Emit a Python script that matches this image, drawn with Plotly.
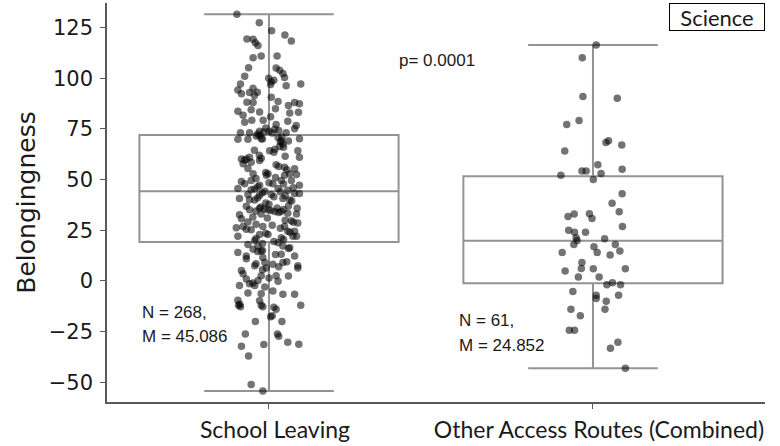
import plotly.graph_objects as go

# ---- categories and tick labels ----
categories = ["School Leaving", "Other Access Routes (Combined)"]
category_pos = [0, 1]
y_ticks = [-50, -25, 0, 25, 50, 75, 100, 125]

# ---- box summary statistics (per category) ----
box_q1 = [19.2, -1.1]
box_median = [44.3, 19.8]
box_q3 = [72.0, 51.6]
box_low = [-54.3, -43.1]
box_high = [131.5, 116.4]

# ---- School Leaving: belongingness scores and horizontal jitter ----
school_leaving_values = [
    131.5, 127.4, 123.4, 121.3, 118.3, 119.3, 119.2, 117.5, 116.1, 111.0,
    110.1, 111.0, 105.2, 105.1, 103.9, 102.3, 101.0, 100.3, 100.0, 98.3,
    96.9, 97.1, 96.3, 97.1, 95.0, 94.2, 93.1, 92.3, 92.9, 90.6,
    88.5, 88.2, 88.0, 88.0, 87.4,
    83.7, 84.5, 83.3, 82.8, 83.2, 81.7, 78.3, 79.3, 79.3, 77.2,
    78.8, 76.7, 75.1, 74.8, 73.1, 73.1, 73.9, 73.5, 73.9, 73.1,
    71.5, 70.2, 69.9, 69.9, 70.7, 69.1, 67.5, 70.2, 66.3, 64.2,
    65.0, 64.2, 60.2, 60.2, 61.0, 60.5, 57.8, 59.4, 57.3, 61.0,
    56.1, 55.3, 52.9, 52.9, 52.1, 52.1, 52.9, 48.0, 49.6, 48.0,
    49.6, 49.6, 47.2, 47.2, 45.6, 45.3, 45.6, 44.8, 44.3, 42.7,
    42.3, 42.7, 43.2, 43.2, 40.7, 39.9, 40.7, 39.9, 37.8,
    35.1, 35.9, 33.0, 35.1, 34.2, 34.2, 33.4, 35.9, 32.6, 30.7,
    29.1, 29.7, 28.6, 26.2, 26.9, 25.3, 26.9, 26.9, 24.5, 24.5,
    22.9, 22.9, 22.1, 21.3, 22.1, 20.0, 18.9, 18.0, 17.2, 17.2,
    16.4, 14.0, 12.3, 14.8, 15.6, 11.6, 9.1, 13.2, 12.3, 7.5,
    8.3, 9.1, 7.5, 6.4, 5.1, 6.4, 3.5, 2.6, 2.6, 1.0,
    0.2, -0.1, -1.4, -2.2, -3.0, -2.2, -5.0, -5.9, -6.3, -6.6,
    -6.6, -9.5, -9.8,
    -12.0, -12.7, -12.0, -12.7, -14.0, -12.0, -17.6, -17.1, -20.0, -20.0,
    -26.2, -26.2, -27.3, -32.2, -31.4, -30.2, -31.2, -37.0, -51.1, -54.3,
    72.5, 71.8, 73.0, 74.2, 71.0, 68.5, 70.0, 66.0, 75.5, 69.0,
    62.0, 63.5, 58.5, 59.5, 61.5, 56.5, 64.5,
    53.5, 54.8, 51.0, 50.5, 55.5, 52.5,
    46.5, 47.8, 44.0, 45.0, 48.5, 43.5, 46.0, 49.0,
    41.5, 40.0, 42.0, 38.5, 39.5, 41.0,
    36.5, 35.5, 34.8, 36.0, 33.8, 35.2, 37.0, 34.5, 33.0, 36.8,
    31.5, 30.0, 29.0, 31.0, 28.0,
    25.5, 24.0, 26.0, 23.5, 27.5,
    21.0, 19.5, 20.5, 18.5, 22.0,
    15.0, 14.5, 13.0, 11.0, 16.0,
    8.5, 7.0, 5.5, 9.5,
    1.5, -1.0, 2.5,
    -11.5, -13.0,
    85.0, 91.5, 81.0, 99.0, 86.5,
]
school_leaving_jitter = [
    -0.099, -0.030, 0.008, 0.049, 0.069, -0.068, -0.049, -0.042, -0.034, -0.024,
    -0.049, 0.025, -0.063, 0.022, 0.033, 0.043, -0.075, 0.048, -0.001, 0.007,
    0.005, -0.088, 0.053, 0.098, -0.049, -0.096, -0.036, -0.085, -0.060, 0.007,
    0.028, -0.068, -0.049, 0.079, 0.094,
    -0.096, -0.055, -0.029, 0.064, 0.091, -0.080, -0.075, -0.053, -0.018, 0.022,
    0.058, 0.084, 0.079, 0.018, -0.088, -0.060, -0.029, -0.016, 0.000, 0.053,
    -0.039, -0.024, -0.065, -0.096, 0.028, 0.038, 0.043, 0.094, 0.033, 0.002,
    0.018, 0.089, -0.085, -0.070, -0.060, -0.024, -0.080, -0.029, 0.022, 0.094,
    0.048, 0.079, -0.049, -0.003, -0.008, 0.048, 0.064, -0.075, -0.055, 0.012,
    0.038, 0.069, -0.029, 0.094, -0.096, -0.044, 0.028, 0.058, -0.013, -0.065,
    -0.029, 0.007, 0.079, 0.094, -0.091, -0.044, 0.043, 0.064, 0.000,
    -0.060, -0.029, -0.024, -0.003, 0.018, 0.038, 0.058, 0.087, -0.091, -0.085,
    -0.065, 0.069, 0.089, -0.101, -0.080, -0.055, -0.019, 0.048, 0.058, 0.079,
    -0.029, -0.003, -0.096, 0.038, 0.074, -0.044, 0.028, -0.065, -0.034, 0.043,
    0.064, -0.096, -0.070, -0.024, -0.049, -0.019, -0.013, 0.038, 0.079, -0.044,
    0.012, 0.043, 0.089, -0.008, -0.085, 0.089, -0.080, -0.024, 0.022, -0.070,
    -0.034, 0.028, -0.060, -0.044, -0.013, -0.091, 0.012, -0.065, -0.024, 0.043,
    0.079, -0.096, -0.029,
    -0.094, -0.088, -0.024, -0.019, 0.022, 0.098, 0.005, 0.010, -0.042, 0.040,
    -0.073, 0.026, 0.030, -0.085, -0.016, 0.058, 0.092, -0.063, -0.055, -0.019,
    -0.035, -0.028, 0.010, 0.030, 0.040, 0.035, -0.020, 0.045, -0.010, 0.060,
    -0.030, 0.015, -0.055, -0.075, 0.050, 0.030, -0.045,
    -0.010, 0.055, 0.020, -0.040, -0.065, 0.085,
    -0.035, 0.045, 0.035, -0.055, 0.000, -0.020, 0.075, -0.085,
    0.015, -0.060, 0.050, -0.010, 0.070, -0.035,
    -0.025, -0.015, 0.005, 0.025, 0.030, 0.045, 0.060, -0.040, 0.085, -0.070,
    -0.050, 0.050, 0.075, -0.005, -0.040,
    -0.070, 0.065, 0.035, -0.010, 0.010,
    -0.040, 0.015, 0.045, -0.020, 0.085,
    -0.020, -0.035, 0.020, -0.070, 0.060,
    -0.040, 0.030, -0.020, 0.055,
    0.000, -0.050, 0.060,
    -0.090, 0.015,
    0.020, -0.045, 0.005, 0.015, 0.060,
]

# ---- Other Access Routes (Combined): scores and jitter ----
other_routes_values = [
    116.4, 110.1, 91.0, 90.1, 77.2, 79.1, 69.1, 68.3, 67.1, 64.1,
    57.3, 55.1, 54.2, 54.2, 53.0, 52.1, 50.1, 43.0, 38.3,
    34.1, 31.8, 33.0, 33.1, 30.8, 26.9, 25.0, 24.0, 24.0, 21.3,
    20.0, 20.8, 18.0, 18.0, 16.9, 14.0, 14.0, 14.8, 12.8, 9.1,
    6.2, 4.9, 6.0, 6.0, 2.0, 2.0, -1.9, -0.9, -1.9, -5.2,
    -7.1, -8.7, -7.1, -10.0, -14.0, -14.0, -17.1, -24.3, -24.3, -33.2,
    -30.2, -43.1,
]
other_routes_jitter = [
    0.010, -0.033, -0.031, 0.075, -0.081, -0.043, 0.048, 0.040, 0.089, -0.087,
    0.015, 0.090, -0.034, -0.021, 0.025, -0.099, 0.001, 0.090, 0.059,
    0.081, -0.077, -0.058, -0.011, -0.003, 0.091, -0.075, -0.057, -0.023, -0.052,
    -0.049, 0.036, -0.059, 0.069, 0.003, -0.095, 0.013, 0.083, 0.053, -0.034,
    -0.036, -0.086, 0.001, 0.100, -0.045, 0.019, 0.043, 0.060, 0.085, -0.062,
    0.010, 0.010, 0.079, 0.041, -0.068, 0.037, -0.039, -0.073, -0.057, 0.054,
    0.077, 0.100,
]

point_groups = [
    (school_leaving_values, school_leaving_jitter),
    (other_routes_values, other_routes_jitter),
]

BOX_LINE = "#939393"
AXIS_LINE = "#5a5a5a"
TEXT = "#1a1a1a"

fig = go.Figure()

# boxes with whiskers
for i, pos in enumerate(category_pos):
    fig.add_trace(go.Box(
        x=[pos],
        q1=[box_q1[i]], median=[box_median[i]], q3=[box_q3[i]],
        lowerfence=[box_low[i]], upperfence=[box_high[i]],
        width=0.8, whiskerwidth=0.5,
        fillcolor="white",
        line=dict(color=BOX_LINE, width=2),
        boxpoints=False, hoverinfo="skip", showlegend=False,
    ))

# jittered observations
for pos, (vals, jit) in zip(category_pos, point_groups):
    fig.add_trace(go.Scatter(
        x=[pos + j for j in jit], y=vals,
        mode="markers",
        marker=dict(color="black", size=7.5, opacity=0.55, line=dict(width=0)),
        showlegend=False, hoverinfo="skip",
    ))

# sample size / mean labels
stat_labels = [
    (-0.398, -15.5, "N = 268,"), (-0.398, -27.2, "M = 45.086"),
    (0.579, -19.7, "N = 61,"), (0.579, -31.6, "M = 24.852"),
]
for x, y, t in stat_labels:
    fig.add_annotation(x=x, y=y, text=t, showarrow=False, xanchor="left",
                       yanchor="middle",
                       font=dict(family="Liberation Sans", size=17, color=TEXT))

fig.add_annotation(x=0.519, y=108.5, text="p= 0.0001", showarrow=False,
                   font=dict(family="Liberation Sans", size=17, color=TEXT))

fig.add_annotation(xref="paper", yref="paper", x=1.0, y=1.0,
                   xanchor="right", yanchor="top",
                   text="Science", showarrow=False,
                   width=92, height=24, align="center",
                   bordercolor="black", borderwidth=1, borderpad=1,
                   font=dict(family="Lato", size=22, color=TEXT))

fig.update_layout(
    width=780, height=446,
    margin=dict(l=107, r=15, t=3, b=38),
    plot_bgcolor="white", paper_bgcolor="white",
    xaxis=dict(
        range=[-0.5, 1.531], tickvals=category_pos, ticktext=categories,
        showgrid=False, zeroline=False,
        showline=True, linecolor=AXIS_LINE, linewidth=1.5,
        ticks="outside", ticklen=5, tickcolor=AXIS_LINE,
        ticklabelshift=6, ticklabelstandoff=2,
        tickfont=dict(family="Lato", size=23, color=TEXT),
    ),
    yaxis=dict(
        range=[-59.7, 137.1], tickvals=y_ticks,
        showgrid=False, zeroline=False,
        showline=True, linecolor=AXIS_LINE, linewidth=1.5,
        ticks="outside", ticklen=5, tickcolor=AXIS_LINE,
        ticklabelstandoff=3,
        tickfont=dict(family="DejaVu Sans", size=21, color=TEXT),
        title=dict(text="Belongingness", standoff=6,
                   font=dict(family="DejaVu Sans", size=25, color=TEXT)),
    ),
)

fig.write_html("out.html")
